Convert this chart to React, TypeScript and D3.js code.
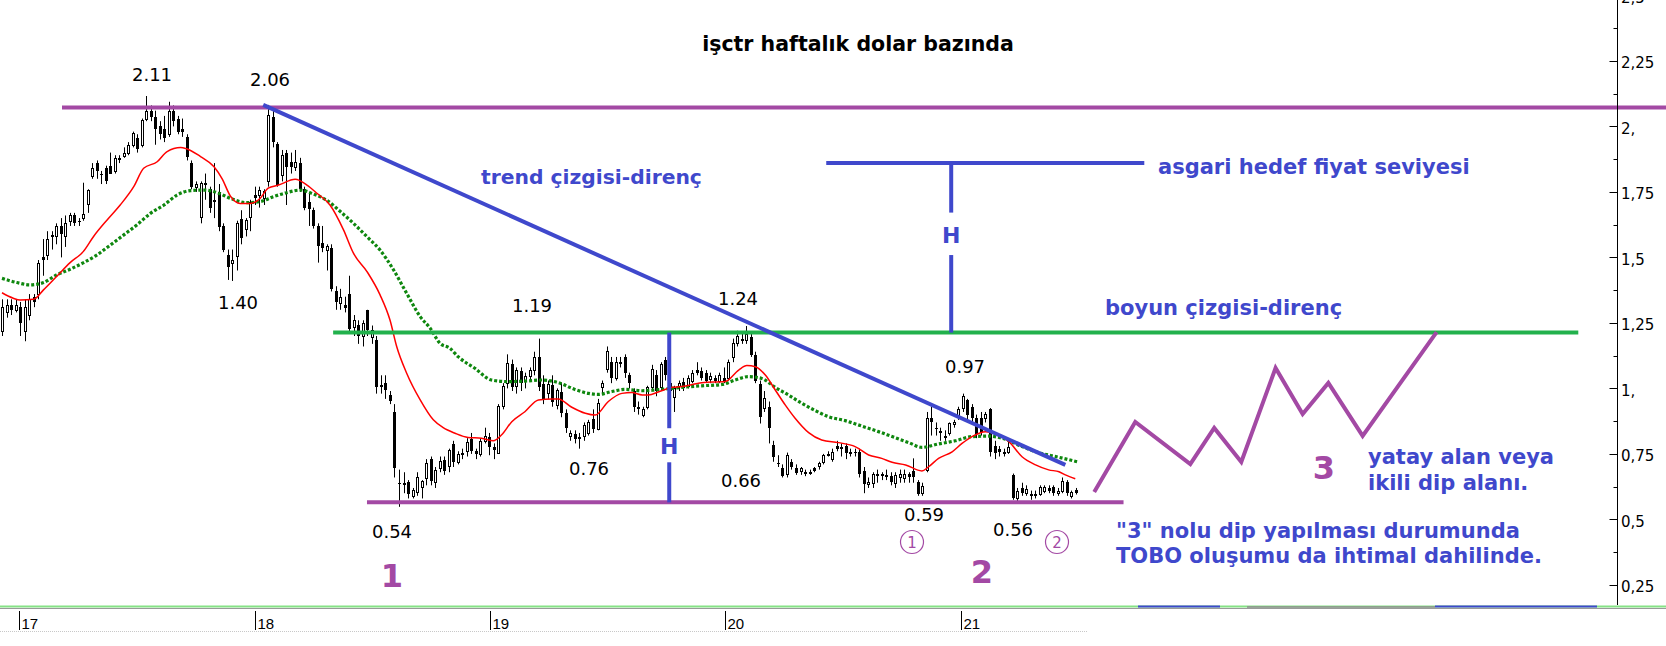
import React from 'react';
import * as d3 from 'd3';

const W = 1666;
const H = 646;

// weekly candles, first week starting 2016-12-05 : [open, high, low, close]
const START = new Date(2016, 11, 5);
const candles: [number, number, number, number][] = [
  [1.22, 1.34, 1.20, 1.31], [1.29, 1.34, 1.27, 1.32], [1.32, 1.34, 1.28, 1.30], [1.30, 1.34, 1.29, 1.32], [1.31, 1.33, 1.20, 1.25],
  [1.22, 1.34, 1.18, 1.31], [1.28, 1.36, 1.26, 1.34], [1.35, 1.36, 1.31, 1.33], [1.36, 1.49, 1.34, 1.48], [1.50, 1.57, 1.43, 1.49],
  [1.51, 1.60, 1.49, 1.57], [1.585, 1.60, 1.53, 1.578], [1.58, 1.63, 1.55, 1.62], [1.62, 1.65, 1.50, 1.59], [1.58, 1.66, 1.54, 1.63],
  [1.64, 1.67, 1.62, 1.66], [1.66, 1.67, 1.62, 1.63], [1.64, 1.65, 1.62, 1.635], [1.65, 1.785, 1.64, 1.665], [1.704, 1.76, 1.67, 1.757],
  [1.81, 1.86, 1.80, 1.84], [1.86, 1.87, 1.80, 1.83], [1.82, 1.83, 1.78, 1.815], [1.84, 1.85, 1.78, 1.79], [1.85, 1.90, 1.82, 1.82],
  [1.83, 1.89, 1.82, 1.88], [1.88, 1.89, 1.86, 1.87], [1.887, 1.92, 1.88, 1.90], [1.90, 1.94, 1.89, 1.93], [1.93, 1.98, 1.92, 1.974],
  [1.955, 1.97, 1.90, 1.913], [1.93, 2.03, 1.92, 2.025], [2.03, 2.116, 2.02, 2.06], [2.06, 2.08, 2.02, 2.035], [2.035, 2.06, 1.93, 1.99],
  [2.00, 2.02, 1.95, 1.97], [1.99, 2.04, 1.94, 1.955], [1.97, 2.094, 1.96, 2.06], [2.06, 2.08, 2.00, 2.02], [2.03, 2.04, 1.97, 1.98],
  [1.99, 2.03, 1.96, 1.98], [1.96, 1.97, 1.87, 1.885], [1.86, 1.87, 1.76, 1.77], [1.77, 1.79, 1.75, 1.78], [1.653, 1.79, 1.63, 1.785],
  [1.785, 1.82, 1.72, 1.776], [1.76, 1.77, 1.67, 1.69], [1.72, 1.86, 1.65, 1.72], [1.75, 1.78, 1.60, 1.615], [1.62, 1.63, 1.52, 1.53],
  [1.51, 1.53, 1.414, 1.462], [1.48, 1.53, 1.41, 1.49], [1.505, 1.64, 1.45, 1.63], [1.645, 1.68, 1.55, 1.573], [1.607, 1.65, 1.58, 1.643],
  [1.655, 1.72, 1.60, 1.713], [1.74, 1.77, 1.70, 1.728], [1.738, 1.77, 1.69, 1.757], [1.725, 1.76, 1.70, 1.755], [1.79, 2.082, 1.77, 2.043],
  [2.037, 2.06, 1.92, 1.94], [1.933, 1.94, 1.77, 1.776], [1.815, 1.91, 1.79, 1.89], [1.90, 1.91, 1.70, 1.846], [1.865, 1.90, 1.82, 1.846],
  [1.846, 1.91, 1.83, 1.865], [1.86, 1.88, 1.75, 1.76], [1.76, 1.77, 1.68, 1.69], [1.713, 1.75, 1.62, 1.684], [1.68, 1.69, 1.61, 1.62],
  [1.62, 1.63, 1.48, 1.543], [1.554, 1.62, 1.52, 1.535], [1.528, 1.55, 1.45, 1.543], [1.535, 1.55, 1.37, 1.38], [1.37, 1.39, 1.30, 1.33],
  [1.325, 1.38, 1.30, 1.35], [1.318, 1.35, 1.29, 1.306], [1.36, 1.43, 1.21, 1.226], [1.236, 1.28, 1.20, 1.26], [1.242, 1.26, 1.17, 1.20],
  [1.20, 1.26, 1.16, 1.248], [1.30, 1.30, 1.20, 1.223], [1.197, 1.24, 1.17, 1.223], [1.185, 1.20, 0.98, 1.004], [1.013, 1.05, 0.98, 1.004],
  [1.02, 1.05, 0.96, 0.994], [0.975, 0.99, 0.94, 0.953], [0.91, 0.94, 0.66, 0.695], [0.64, 0.69, 0.548, 0.635], [0.636, 0.68, 0.60, 0.638],
  [0.644, 0.65, 0.58, 0.597], [0.59, 0.62, 0.58, 0.612], [0.606, 0.68, 0.59, 0.663], [0.625, 0.65, 0.58, 0.645], [0.657, 0.73, 0.63, 0.714],
  [0.73, 0.74, 0.63, 0.648], [0.644, 0.70, 0.62, 0.69], [0.695, 0.74, 0.68, 0.723], [0.727, 0.74, 0.67, 0.686], [0.705, 0.77, 0.68, 0.765],
  [0.788, 0.80, 0.70, 0.72], [0.72, 0.76, 0.71, 0.75], [0.75, 0.77, 0.73, 0.755], [0.762, 0.81, 0.74, 0.797], [0.806, 0.83, 0.75, 0.762],
  [0.76, 0.77, 0.73, 0.75], [0.75, 0.81, 0.74, 0.80], [0.80, 0.85, 0.79, 0.82], [0.815, 0.83, 0.745, 0.775], [0.775, 0.79, 0.73, 0.765],
  [0.755, 0.94, 0.75, 0.933], [0.932, 1.02, 0.92, 1.01], [1.02, 1.13, 1.00, 1.096], [1.093, 1.11, 0.99, 1.007], [1.01, 1.08, 0.98, 1.07],
  [1.067, 1.08, 0.99, 1.02], [1.03, 1.06, 1.00, 1.047], [1.047, 1.08, 1.03, 1.07], [1.07, 1.14, 1.05, 1.12], [1.12, 1.19, 0.99, 1.004],
  [1.017, 1.05, 0.94, 0.96], [0.984, 1.03, 0.96, 1.015], [1.013, 1.05, 0.93, 0.95], [0.937, 1.00, 0.92, 0.994], [0.986, 1.02, 0.89, 0.905],
  [0.907, 0.92, 0.83, 0.848], [0.82, 0.84, 0.80, 0.83], [0.826, 0.84, 0.79, 0.806], [0.81, 0.83, 0.77, 0.815], [0.82, 0.87, 0.80, 0.86],
  [0.83, 0.88, 0.82, 0.873], [0.884, 0.92, 0.83, 0.844], [0.844, 0.96, 0.84, 0.943], [1.005, 1.03, 0.98, 1.02], [1.073, 1.16, 1.06, 1.144],
  [1.10, 1.12, 1.02, 1.04], [1.04, 1.12, 1.03, 1.10], [1.10, 1.12, 1.08, 1.10], [1.118, 1.13, 1.04, 1.057], [1.05, 1.06, 1.00, 1.02],
  [0.99, 1.00, 0.91, 0.93], [0.93, 0.95, 0.90, 0.93], [0.898, 0.93, 0.89, 0.92], [0.93, 1.01, 0.92, 1.004], [1.004, 1.09, 0.99, 1.073],
  [1.05, 1.07, 0.97, 0.99], [1.004, 1.10, 0.99, 1.093], [1.108, 1.12, 1.03, 1.05], [1.02, 1.04, 0.92, 0.99], [0.966, 1.01, 0.91, 1.00],
  [1.01, 1.03, 0.99, 1.02], [1.025, 1.04, 0.99, 1.00], [1.01, 1.05, 1.00, 1.04], [1.03, 1.07, 1.02, 1.06], [1.07, 1.10, 1.05, 1.06],
  [1.067, 1.08, 1.03, 1.04], [1.06, 1.07, 1.02, 1.03], [1.035, 1.06, 1.02, 1.047], [1.04, 1.05, 1.02, 1.03], [1.03, 1.06, 1.02, 1.05],
  [1.04, 1.08, 1.02, 1.03], [1.04, 1.11, 1.03, 1.10], [1.118, 1.19, 1.10, 1.175], [1.172, 1.22, 1.16, 1.20], [1.19, 1.21, 1.17, 1.18],
  [1.185, 1.238, 1.17, 1.206], [1.197, 1.21, 1.12, 1.127], [1.127, 1.14, 1.02, 1.03], [1.016, 1.03, 0.866, 0.892], [0.924, 0.99, 0.91, 0.962],
  [0.93, 0.95, 0.79, 0.848], [0.784, 0.80, 0.72, 0.737], [0.715, 0.745, 0.70, 0.71], [0.695, 0.71, 0.66, 0.666], [0.673, 0.755, 0.66, 0.746],
  [0.72, 0.73, 0.69, 0.70], [0.697, 0.71, 0.67, 0.678], [0.686, 0.70, 0.67, 0.695], [0.682, 0.69, 0.665, 0.673], [0.676, 0.69, 0.67, 0.68],
  [0.695, 0.70, 0.68, 0.686], [0.703, 0.72, 0.69, 0.714], [0.718, 0.75, 0.71, 0.746], [0.745, 0.76, 0.74, 0.75], [0.73, 0.77, 0.72, 0.758],
  [0.78, 0.80, 0.76, 0.77], [0.776, 0.79, 0.74, 0.767], [0.78, 0.79, 0.73, 0.753], [0.758, 0.77, 0.74, 0.758], [0.758, 0.77, 0.74, 0.752],
  [0.758, 0.77, 0.66, 0.673], [0.686, 0.70, 0.60, 0.637], [0.635, 0.66, 0.62, 0.643], [0.64, 0.68, 0.62, 0.672], [0.673, 0.69, 0.64, 0.666],
  [0.673, 0.68, 0.65, 0.666], [0.666, 0.69, 0.65, 0.670], [0.666, 0.68, 0.63, 0.644], [0.64, 0.68, 0.62, 0.67], [0.66, 0.69, 0.64, 0.675],
  [0.657, 0.69, 0.64, 0.675], [0.673, 0.68, 0.64, 0.66], [0.684, 0.733, 0.64, 0.66], [0.644, 0.65, 0.59, 0.597], [0.602, 0.64, 0.59, 0.628],
  [0.688, 0.91, 0.68, 0.886], [0.888, 0.93, 0.82, 0.873], [0.85, 0.87, 0.82, 0.848], [0.837, 0.85, 0.80, 0.828], [0.82, 0.84, 0.80, 0.82],
  [0.828, 0.87, 0.82, 0.867], [0.865, 0.88, 0.85, 0.873], [0.898, 0.93, 0.88, 0.92], [0.924, 0.98, 0.91, 0.97], [0.955, 0.96, 0.88, 0.898],
  [0.93, 0.94, 0.87, 0.886], [0.886, 0.90, 0.81, 0.826], [0.886, 0.91, 0.82, 0.835], [0.886, 0.91, 0.87, 0.902], [0.92, 0.925, 0.74, 0.758],
  [0.78, 0.80, 0.73, 0.755], [0.77, 0.78, 0.74, 0.757], [0.757, 0.77, 0.74, 0.758], [0.758, 0.80, 0.75, 0.775], [0.67, 0.675, 0.575, 0.58],
  [0.58, 0.62, 0.57, 0.61], [0.618, 0.64, 0.59, 0.60], [0.60, 0.63, 0.59, 0.615], [0.597, 0.61, 0.575, 0.59], [0.595, 0.61, 0.58, 0.597],
  [0.597, 0.63, 0.59, 0.622], [0.61, 0.63, 0.60, 0.622], [0.618, 0.63, 0.60, 0.61], [0.622, 0.63, 0.59, 0.602], [0.60, 0.62, 0.59, 0.61],
  [0.61, 0.66, 0.60, 0.648], [0.644, 0.65, 0.59, 0.602], [0.59, 0.61, 0.58, 0.605], [0.612, 0.62, 0.595, 0.602],
];

// moving averages: [week index, value]
const redMA: [number, number][] = [
  [0, 1.365], [2.5, 1.344], [4, 1.337], [7, 1.34], [9.2, 1.376], [12.1, 1.427], [15.1, 1.48], [18, 1.522], [20.3, 1.58],
  [23.3, 1.643], [26.2, 1.70], [29.2, 1.77], [31.4, 1.84], [34.4, 1.865], [36.6, 1.904], [39.6, 1.919], [40.7, 1.916],
  [44, 1.885], [47, 1.846], [48.8, 1.80], [50.6, 1.735], [52.8, 1.706], [55, 1.706], [57.2, 1.725], [59, 1.764], [61.3, 1.776],
  [65, 1.798], [67.6, 1.776], [69.8, 1.745], [72.7, 1.70], [75.7, 1.605], [77.9, 1.516], [80.9, 1.446], [83.8, 1.357],
  [86.0, 1.261], [87.5, 1.159], [89.7, 1.058], [92.7, 0.956], [95.6, 0.88], [97.8, 0.85], [100.4, 0.829], [103.3, 0.813],
  [106.3, 0.81], [108.9, 0.80], [110.7, 0.822], [113, 0.873], [115.9, 0.911], [118.9, 0.956], [121.9, 0.96], [123.3, 0.96],
  [126.3, 0.928], [129.3, 0.905], [131.5, 0.898], [134.4, 0.95], [137.4, 0.981], [139.6, 0.984], [141.9, 0.975], [143.3, 0.975],
  [145.6, 0.987], [148.5, 1.004], [150.7, 1.007], [155.1, 1.022], [160.3, 1.026], [163.3, 1.07], [165.1, 1.087], [167, 1.083],
  [169.2, 1.051], [171.4, 0.994], [173.6, 0.937], [175.8, 0.886], [178.8, 0.831], [181.7, 0.803], [185.4, 0.793], [189.1, 0.778],
  [192.1, 0.746], [195, 0.733], [197.3, 0.718], [200.3, 0.708], [203.9, 0.685], [205.4, 0.701], [207.6, 0.733], [210.6, 0.758],
  [212.8, 0.79], [215, 0.816], [218, 0.835], [220.1, 0.828], [223.2, 0.797], [226.1, 0.739], [229.1, 0.708], [232, 0.689],
  [234.3, 0.682], [235.7, 0.67], [237.9, 0.655],
];

const greenMA: [number, number][] = [
  [0, 1.42], [3.3, 1.404], [6.2, 1.395], [9.2, 1.404], [12.1, 1.433], [15.1, 1.455], [18.1, 1.48], [21, 1.509], [24, 1.547],
  [27, 1.586], [29.9, 1.624], [32.9, 1.668], [35.9, 1.70], [38.8, 1.738], [41.8, 1.755], [44.7, 1.757], [47.7, 1.747],
  [50.7, 1.725], [54.2, 1.709], [57.2, 1.713], [60.2, 1.732], [63.1, 1.747], [66.1, 1.757], [69, 1.742], [71.9, 1.719],
  [75, 1.675], [77.9, 1.63], [80.9, 1.579], [83.8, 1.528], [86.8, 1.452], [89.7, 1.363], [92.7, 1.274], [94.9, 1.23],
  [97.1, 1.172], [99.3, 1.153], [101.1, 1.121], [104.8, 1.077], [108.5, 1.032], [112.2, 1.026], [115.9, 1.028], [119.6, 1.032],
  [123.3, 1.022], [127, 0.996], [130, 0.981], [132.2, 0.977], [135.2, 0.988], [138.1, 0.996], [141.9, 0.991], [144.8, 0.994],
  [148.5, 1.0], [150.7, 1.004], [155.1, 1.01], [159.6, 1.015], [162.5, 1.032], [165.5, 1.045], [168.4, 1.038], [171.4, 1.004],
  [174.3, 0.975], [177.3, 0.943], [180.3, 0.915], [183.2, 0.892], [186.9, 0.877], [190.6, 0.856], [194.3, 0.835], [197.3, 0.816],
  [201, 0.793], [203.9, 0.775], [207.6, 0.788], [211.3, 0.80], [215, 0.816], [218.7, 0.818], [222.4, 0.806], [226.1, 0.778],
  [229.8, 0.755], [234.3, 0.737], [238.3, 0.72],
];

// drawn annotation lines: [week index, price]
const topLine: [number, number][] = [[13.3, 2.072], [372, 2.072]];
const neckLine: [number, number][] = [[73.4, 1.213], [349.4, 1.213]];
const supportLine: [number, number][] = [[80.9, 0.565], [248.6, 0.565]];
const trendLine: [number, number][] = [[57.9, 2.082], [235.7, 0.708]];
const targetLine: [number, number][] = [[182.7, 1.86], [253.2, 1.86]];
const hLeftWeek = 147.9;
const hLeftSegs: [number, number][] = [[1.213, 0.848], [0.718, 0.565]];
const hRightWeek = 210.4;
const hRightSegs: [number, number][] = [[1.86, 1.671], [1.509, 1.213]];
const zigzag: [number, number][] = [
  [242.1, 0.605], [251.2, 0.872], [263.4, 0.711], [268.7, 0.849], [274.7, 0.719],
  [282.3, 1.078], [288.3, 0.902], [294.0, 1.021], [301.6, 0.819], [318.0, 1.215],
];

const yTicks = [0.25, 0.5, 0.75, 1, 1.25, 1.5, 1.75, 2, 2.25, 2.5];
const yTickLabels = ['0,25', '0,5', '0,75', '1,', '1,25', '1,5', '1,75', '2,', '2,25', '2,5'];
const yMinorTicks = [0.375, 0.625, 0.875, 1.125, 1.375, 1.625, 1.875, 2.125, 2.375];
const yearTicks = [2017, 2018, 2019, 2020, 2021];
const yearLabels = ['17', '18', '19', '20', '21'];

const priceLabels: { t: string; x: number; y: number }[] = [
  { t: '2.11', x: 152, y: 81 },
  { t: '2.06', x: 270, y: 86 },
  { t: '1.40', x: 238, y: 309 },
  { t: '1.19', x: 532, y: 312 },
  { t: '1.24', x: 738, y: 305 },
  { t: '0.76', x: 589, y: 475 },
  { t: '0.66', x: 741, y: 487 },
  { t: '0.97', x: 965, y: 373 },
  { t: '0.54', x: 392, y: 538 },
  { t: '0.59', x: 924, y: 521 },
  { t: '0.56', x: 1013, y: 536 },
];

const PURPLE = '#a349a4';
const BLUE = '#3f48cc';
const GREEN = '#22b14c';

const dayMs = 864e5;
const weekDate = (i: number) => new Date(START.getTime() + i * 7 * dayMs);

export default function App() {
  const x = d3.scaleTime().domain([new Date(2017, 0, 1), new Date(2021, 0, 1)]).range([19.4, 961]);
  const y = d3.scaleLinear().domain([0.25, 2.25]).range([584.9, 60.9]);
  const xw = (i: number) => x(weekDate(i));

  const line = d3.line<[number, number]>().x((d) => xw(d[0])).y((d) => y(d[1]));
  const smooth = d3.line<[number, number]>().x((d) => xw(d[0])).y((d) => y(d[1])).curve(d3.curveMonotoneX);

  const axisX = 1617.5;
  const font = '"DejaVu Sans", Verdana, sans-serif';

  return (
    <svg width={W} height={H} style={{ position: 'absolute', left: 0, top: 0, background: '#fff' }} xmlns="http://www.w3.org/2000/svg">
      <rect x={0} y={0} width={W} height={H} fill="#fff" />

      {/* candles */}
      <g>
        {candles.map((c, i) => {
          const [o, h, l, cl] = c;
          const cx = Math.round(xw(i));
          const top = Math.round(y(Math.max(o, cl)));
          const bot = Math.round(y(Math.min(o, cl)));
          const up = cl >= o;
          return (
            <g key={i}>
              <line x1={cx + 0.5} x2={cx + 0.5} y1={y(h)} y2={y(l)} stroke="#000" strokeWidth={1} />
              {up ? (
                <rect x={cx - 0.5} y={top + 0.5} width={2} height={Math.max(bot - top, 1)} fill="#fff" stroke="#000" strokeWidth={1} />
              ) : (
                <rect x={cx - 1} y={top} width={3} height={Math.max(bot - top, 1)} fill="#000" />
              )}
            </g>
          );
        })}
      </g>

      {/* moving averages */}
      <path d={smooth(greenMA) || ''} fill="none" stroke="#0e870e" strokeWidth={3.2} strokeDasharray="3 2" />
      <path d={smooth(redMA) || ''} fill="none" stroke="#ff0000" strokeWidth={1.5} />

      {/* annotation lines */}
      <path d={line(topLine) || ''} stroke={PURPLE} strokeWidth={4} fill="none" />
      <path d={line(neckLine) || ''} stroke={GREEN} strokeWidth={4} fill="none" />
      <path d={line(supportLine) || ''} stroke={PURPLE} strokeWidth={4} fill="none" />
      <path d={line(trendLine) || ''} stroke={BLUE} strokeWidth={4} fill="none" />
      <path d={line(targetLine) || ''} stroke={BLUE} strokeWidth={4} fill="none" />
      {hLeftSegs.map((s, k) => (
        <line key={'hl' + k} x1={xw(hLeftWeek)} x2={xw(hLeftWeek)} y1={y(s[0])} y2={y(s[1])} stroke={BLUE} strokeWidth={4} />
      ))}
      {hRightSegs.map((s, k) => (
        <line key={'hr' + k} x1={xw(hRightWeek)} x2={xw(hRightWeek)} y1={y(s[0])} y2={y(s[1])} stroke={BLUE} strokeWidth={4} />
      ))}
      <path d={line(zigzag) || ''} stroke={PURPLE} strokeWidth={4} fill="none" strokeLinejoin="miter" />

      {/* H labels */}
      <text x={xw(hLeftWeek)} y={454} textAnchor="middle" fontFamily={font} fontWeight="bold" fontSize={22} fill={BLUE}>H</text>
      <text x={xw(hRightWeek)} y={243} textAnchor="middle" fontFamily={font} fontWeight="bold" fontSize={22} fill={BLUE}>H</text>

      {/* title */}
      <text x={858} y={51} textAnchor="middle" fontFamily={font} fontWeight="bold" fontSize={20.5} fill="#000">işctr haftalık dolar bazında</text>

      {/* price labels */}
      {priceLabels.map((p) => (
        <text key={p.t} x={p.x} y={p.y} textAnchor="middle" fontFamily={font} fontSize={18} fill="#000">{p.t}</text>
      ))}

      {/* blue annotation texts */}
      <g fontFamily={font} fontWeight="bold" fontSize={21} fill={BLUE}>
        <text x={481} y={184} fontSize={20.3}>trend çizgisi-direnç</text>
        <text x={1158} y={174}>asgari hedef fiyat seviyesi</text>
        <text x={1105} y={315}>boyun çizgisi-direnç</text>
        <text x={1368} y={464}>yatay alan veya</text>
        <text x={1368} y={490}>ikili dip alanı.</text>
        <text x={1116} y={538}>"3" nolu dip yapılması durumunda</text>
        <text x={1116} y={563}>TOBO oluşumu da ihtimal dahilinde.</text>
      </g>

      {/* big purple numbers */}
      <g fontFamily={font} fontWeight="bold" fontSize={32} fill={PURPLE} textAnchor="middle">
        <text x={392} y={587}>1</text>
        <text x={982} y={583}>2</text>
        <text x={1324} y={479}>3</text>
      </g>
      {/* circled numbers */}
      {[{ t: '1', cx: 912 }, { t: '2', cx: 1057 }].map((c) => (
        <g key={c.t}>
          <circle cx={c.cx} cy={542} r={11.5} fill="none" stroke={PURPLE} strokeWidth={1.2} />
          <text x={c.cx} y={547.5} textAnchor="middle" fontFamily={font} fontSize={15} fill={PURPLE}>{c.t}</text>
        </g>
      ))}

      {/* y axis */}
      <line x1={axisX} x2={axisX} y1={0} y2={605} stroke="#000" strokeWidth={1} />
      {yTicks.map((v, k) => (
        <g key={'yt' + v}>
          <line x1={axisX - 8} x2={axisX} y1={Math.round(y(v)) + 0.5} y2={Math.round(y(v)) + 0.5} stroke="#000" strokeWidth={1} />
          <text x={1621} y={y(v) + 7.5} fontFamily={font} fontSize={15} fill="#000">{yTickLabels[k]}</text>
        </g>
      ))}
      {yMinorTicks.map((v) => (
        <line key={'ym' + v} x1={axisX - 4} x2={axisX} y1={Math.round(y(v)) + 0.5} y2={Math.round(y(v)) + 0.5} stroke="#000" strokeWidth={1} />
      ))}

      {/* bottom border */}
      <line x1={0} x2={W} y1={608.5} y2={608.5} stroke="#9a9a9a" strokeWidth={1} />
      <line x1={0} x2={W} y1={606.5} y2={606.5} stroke="#86e286" strokeWidth={2} />
      <line x1={1138} x2={1220} y1={606.5} y2={606.5} stroke={BLUE} strokeWidth={2} />
      <line x1={1247} x2={1435} y1={607} y2={607} stroke="#8c8c8c" strokeWidth={1.5} />
      <line x1={1435} x2={1597} y1={606.5} y2={606.5} stroke={BLUE} strokeWidth={2} />

      {/* x axis */}
      <line x1={0} x2={1087} y1={631.5} y2={631.5} stroke="#c8c8c8" strokeWidth={1} strokeDasharray="1 1" />
      {yearTicks.map((yr, k) => {
        const px = Math.round(x(new Date(yr, 0, 1))) + 0.5;
        return (
          <g key={'xt' + yr}>
            <line x1={px} x2={px} y1={611} y2={630} stroke="#000" strokeWidth={1} />
            <text x={px + 2} y={629} fontFamily='"Liberation Sans", Arial, sans-serif' fontSize={15} fill="#000">{yearLabels[k]}</text>
          </g>
        );
      })}
    </svg>
  );
}
